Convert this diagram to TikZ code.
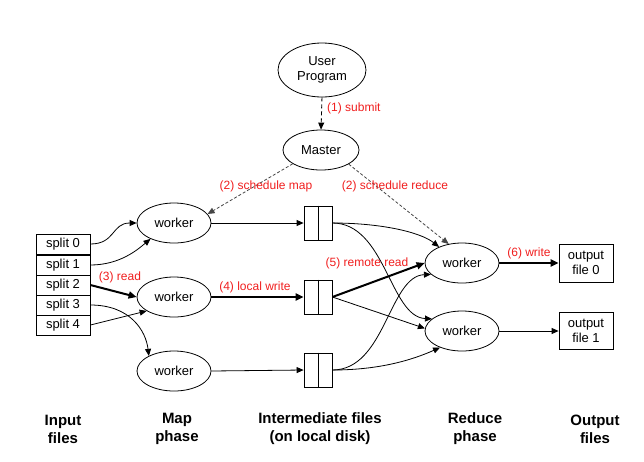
\documentclass[tikz,border=0pt]{standalone}
\usepackage{fontspec}
\setmainfont{Liberation Sans}
\usetikzlibrary{shapes.geometric,arrows.meta}
\definecolor{lblred}{RGB}{240,30,30}
\definecolor{dashgray}{RGB}{70,70,70}
\tikzset{
  ell/.style={draw, ellipse, inner sep=0pt, line width=0.8pt, font=\fontsize{13}{15}\selectfont, align=center},
  wk/.style={ell, minimum width=74pt, minimum height=40pt},
  splitbox/.style={draw, rectangle, minimum width=54pt, minimum height=20pt, inner sep=0pt, line width=0.8pt, font=\fontsize{13}{14}\selectfont},
  filebox/.style={draw, rectangle, minimum width=28pt, minimum height=34pt, inner sep=0pt, line width=0.8pt},
  outbox/.style={draw, rectangle, minimum width=54pt, minimum height=38pt, inner sep=0pt, line width=0.8pt, align=center, font=\fontsize{13}{15}\selectfont},
  lbl/.style={text=lblred, font=\fontsize{12}{14}\selectfont, inner sep=0pt},
  phase/.style={align=center, font=\fontsize{15}{18}\selectfont\bfseries, inner sep=0pt},
  conn/.style={line width=0.8pt, -{Triangle[length=7pt,width=6pt]}},
  thickconn/.style={line width=2pt, -{Triangle[length=8pt,width=7pt]}},
  sched/.style={line width=0.8pt, dashgray, dash pattern=on 3pt off 2pt, -{Triangle[length=7pt,width=6pt]}},
  submit/.style={line width=0.9pt, dash pattern=on 4pt off 3pt, -{Triangle[length=7pt,width=6pt]}}
}
\begin{document}
\begin{tikzpicture}[x=1pt,y=-1pt]
\useasboundingbox (0,0) rectangle (644,461);
% top
\node[ell, minimum width=88pt, minimum height=54pt] (up) at (322,70) {User\\Program};
\node[ell, minimum width=76pt, minimum height=40pt] (m) at (321,150) {Master};
% splits
\node[splitbox] (s0) at (63,244) {split 0};
\node[splitbox] (s1) at (63,265) {split 1};
\node[splitbox] (s2) at (63,285) {split 2};
\node[splitbox] (s3) at (63,305) {split 3};
\node[splitbox] (s4) at (63,325) {split 4};
% map workers
\node[wk] (w1) at (174,223) {worker};
\node[wk] (w2) at (174,297) {worker};
\node[wk] (w3) at (174,371) {worker};
% intermediate files
\node[filebox] (f1) at (318,223) {};
\node[filebox] (f2) at (318,297) {};
\node[filebox] (f3) at (318,370) {};
\draw[line width=0.8pt] (f1.north) -- (f1.south);
\draw[line width=0.8pt] (f2.north) -- (f2.south);
\draw[line width=0.8pt] (f3.north) -- (f3.south);
% reduce workers
\node[wk] (r1) at (462,263) {worker};
\node[wk] (r2) at (462,331) {worker};
% outputs
\node[outbox] (o0) at (586,263) {output\\file 0};
\node[outbox, minimum height=37pt] (o1) at (586,331) {output\\file 1};
% phase labels
\node[phase] (p1) at (63,429) {Input\\files};
\node[phase] (p2) at (177,429) {Map\\phase};
\node[phase] (p3) at (320,429) {Intermediate files\\(on local disk)};
\node[phase] (p4) at (475,429) {Reduce\\phase};
\node[phase] (p5) at (595,429) {Output\\files};
% submit
\draw[submit] (up.south) -- (m.north);
\node[lbl, anchor=west] (l1) at (327,108) {(1) submit};
% schedule
\draw[sched] (m.206) -- (w1.15);
\draw[sched] (m.333) -- (r1.125);
\node[lbl] (l2) at (266,186) {(2) schedule map};
\node[lbl] (l3) at (395,186) {(2) schedule reduce};
% splits -> map workers
\draw[conn] (s0.east) .. controls +(25,0) and +(-25,0) .. (w1.west);
\draw[conn] (s1.east) .. controls +(30,0) and +(-12,10) .. (w1.214);
\draw[thickconn] (s2.east) -- (w2.west);
\draw[conn] (s3.east) .. controls +(40,0) and +(-3,-25) .. (w3.149);
\draw[conn] (s4.east) -- (w2.207);
\node[lbl] (l4) at (120,277) {(3) read};
% map -> files
\draw[conn] (w1.east) -- (f1.west);
\draw[thickconn] (w2.east) -- (f2.west);
\draw[conn] (w3.east) -- (f3.west);
\node[lbl] (l5) at (255,287) {(4) local write};
% files -> reduce
\draw[conn] (f1.east) .. controls +(48,0) and +(-19,-15) .. (r1.145);
\draw[conn] (f1.east) .. controls +(53,0) and +(-42,-2) .. (r2.158);
\draw[thickconn] (f2.east) -- (r1.west);
\draw[conn] (f2.east) -- (r2.176);
\draw[conn] (f3.east) .. controls +(53,0) and +(-42,2) .. (r1.200);
\draw[conn] (f3.east) .. controls +(48,0) and +(-27,12) .. (r2.217);
\node[lbl] (l6) at (367,263) {(5) remote read};
% reduce -> output
\draw[thickconn] (r1.east) -- (o0.west);
\draw[conn] (r2.east) -- (o1.west);
\node[lbl] (l7) at (529,253) {(6) write};
\end{tikzpicture}
\end{document}
